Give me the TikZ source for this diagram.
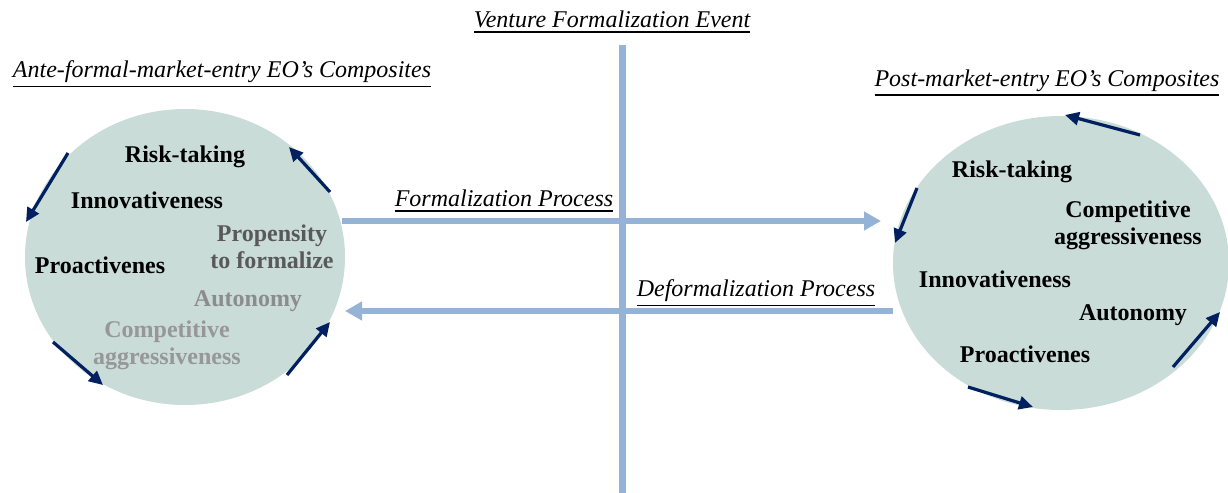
\documentclass[tikz,border=0pt]{standalone}
\usepackage{fontspec}
\setmainfont{Liberation Serif}
\newcommand{\headrule}[1]{\leavevmode\vtop{\hbox{#1}\kern1.4pt\hrule height 0.9pt}}
\usetikzlibrary{shapes.geometric,arrows.meta}
\definecolor{circfill}{HTML}{C9DCD7}
\definecolor{lineblue}{HTML}{95B3D7}
\definecolor{navy}{HTML}{002060}
\definecolor{darkgrey}{HTML}{595959}
\definecolor{midgrey}{HTML}{8C8C8C}
\definecolor{lightgrey}{HTML}{979797}

\tikzset{
	composite/.style={ellipse, fill=circfill, inner sep=0pt},
	trait/.style={font=\fontsize{12}{13.5}\selectfont\bfseries, align=center, inner sep=0pt},
	heading/.style={font=\fontsize{12}{13.5}\selectfont\itshape, inner sep=0pt},
	cycle/.style={navy, line width=1.6pt, -{Triangle[length=7pt,width=6.5pt]}},
	process/.style={lineblue, line width=3pt, -{Triangle[length=8.5pt,width=9pt]}}
}

\begin{document}
\begin{tikzpicture}[x=0.5pt, y=-0.5pt]
	%%%%% START %%%%%
	\useasboundingbox (0, 0) rectangle (1228, 493);
	
	% formalization event line
	\coordinate (eventtop) at (622, 45);
	\coordinate (eventbot) at (622, 493);
	\draw[lineblue, line width=3.5pt] (eventtop) -- (eventbot);
	\node[heading] (event) at (612, 22) {\headrule{Venture Formalization Event}};
	
	% the two composites
	\node[composite, minimum width=160pt, minimum height=148pt] (ante) at (185, 257) {};
	\node[composite, minimum width=168pt, minimum height=147pt] (post) at (1061, 263) {};
	
	\node[heading] (antetitle) at (222, 74) {\headrule{Ante-formal-market-entry EO’s Composites}};
	\node[heading] (posttitle) at (1047, 83) {\headrule{Post-market-entry EO’s Composites}};
	
	% ante traits
	\node[trait] (arisk) at (185, 157) {Risk-taking};
	\node[trait] (ainno) at (147, 200) {Innovativeness};
	\node[trait] (aproa) at (100, 265) {Proactivenes};
	\node[trait, text=darkgrey] (aprop) at (272, 247) {Propensity\\to formalize};
	\node[trait, text=midgrey] (aauto) at (248, 301) {Autonomy};
	\node[trait, text=lightgrey] (acomp) at (167, 345) {Competitive\\aggressiveness};
	
	% post traits
	\node[trait] (prisk) at (1012, 172) {Risk-taking};
	\node[trait] (pcomp) at (1128, 225) {Competitive\\aggressiveness};
	\node[trait] (pinno) at (995, 279) {Innovativeness};
	\node[trait] (pauto) at (1133, 315) {Autonomy};
	\node[trait] (pproa) at (1025, 354) {Proactivenes};
	
	% processes
	\coordinate (fstart) at (342, 221);
	\coordinate (fend) at (881, 221);
	\coordinate (dstart) at (893, 311);
	\coordinate (dend) at (345, 311);
	\draw[process] (fstart) -- (fend);
	\draw[process] (dstart) -- (dend);
	\node[heading] (formal) at (504, 201) {\headrule{Formalization Process}};
	\node[heading] (deformal) at (756, 293) {\headrule{Deformalization Process}};
	
	% ante cycle
	\coordinate (a1) at (330, 192); \coordinate (a2) at (289, 147);
	\coordinate (a3) at (68, 153);  \coordinate (a4) at (26, 222);
	\coordinate (a5) at (53, 342);  \coordinate (a6) at (103, 385);
	\coordinate (a7) at (287, 375); \coordinate (a8) at (330, 322);
	\draw[cycle] (a1) -- (a2);
	\draw[cycle] (a3) -- (a4);
	\draw[cycle] (a5) -- (a6);
	\draw[cycle] (a7) -- (a8);
	
	% post cycle
	\coordinate (p1) at (1140, 135); \coordinate (p2) at (1065, 115);
	\coordinate (p3) at (917, 188);  \coordinate (p4) at (895, 243);
	\coordinate (p5) at (968, 387);  \coordinate (p6) at (1033, 407);
	\coordinate (p7) at (1173, 367); \coordinate (p8) at (1220, 312);
	\draw[cycle] (p1) -- (p2);
	\draw[cycle] (p3) -- (p4);
	\draw[cycle] (p5) -- (p6);
	\draw[cycle] (p7) -- (p8);
	%%%%% END %%%%%
\end{tikzpicture}
\end{document}
